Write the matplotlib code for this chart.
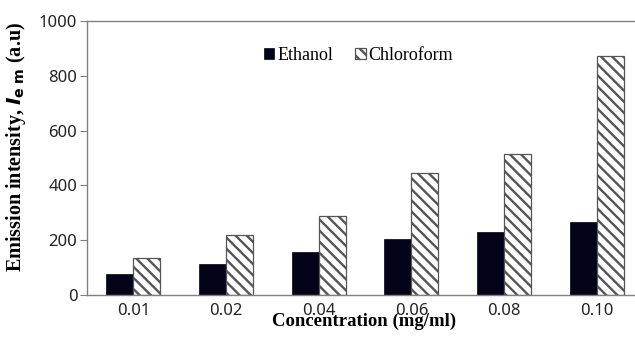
import matplotlib.pyplot as plt
import numpy as np

concentrations = ["0.01", "0.02", "0.04", "0.06", "0.08", "0.10"]
ethanol = [77, 113, 158, 205, 231, 268]
chloroform = [134, 218, 289, 445, 513, 873]

plt.rcParams['hatch.linewidth'] = 1.7
plt.rcParams['hatch.color'] = 'black'

fig = plt.figure(figsize=(6.35, 3.45), dpi=100)
# plot area runs off the right edge of the figure
ax = fig.add_axes([0.137, 0.145, 0.863, 0.794])
ax.patch.set_visible(False)

x = np.arange(len(concentrations))
w = 0.29
ax.bar(x - w / 2, ethanol, w, color='#03031a', edgecolor='#03031a', linewidth=0.5, label='Ethanol')
ax.bar(x + w / 2, chloroform, w, color='white', edgecolor='#555555', linewidth=0.9,
       hatch='\\\\\\', label='Chloroform')

ax.set_xlim(-0.5, -0.5 + 6 * 548 / 556)
ax.set_ylim(0, 1000)
ax.set_yticks(range(0, 1001, 200))
ax.set_xticks(x)
ax.set_xticklabels(concentrations)

for lab in ax.get_xticklabels() + ax.get_yticklabels():
    lab.set_fontfamily('Noto Sans')
    lab.set_fontsize(12)
    lab.set_color('#222222')

ax.tick_params(axis='x', length=0, pad=6)
ax.tick_params(axis='y', length=5, width=0.8, color='#808080', pad=2)

for side in ['left', 'bottom', 'top']:
    ax.spines[side].set_color('#808080')
    ax.spines[side].set_linewidth(1.0)
ax.spines['right'].set_visible(False)

ax.set_xlabel('Concentration (mg/ml)', family='Liberation Serif', fontweight='bold',
              fontsize=13.5)
ax.xaxis.set_label_coords(0.505, -0.066)
ax.set_ylabel(r'Emission intensity, $\boldsymbol{I}$$_{\mathbf{e\ m}}$ (a.u)',
              family='Liberation Serif', fontweight='bold', fontsize=14.5)
ax.yaxis.set_label_coords(-0.108, 0.54)

ax.legend(loc='upper center', bbox_to_anchor=(0.495, 0.965), ncol=2, frameon=False,
          prop={'family': 'Liberation Serif', 'size': 13},
          handlelength=0.6, handleheight=0.6, handletextpad=0.15, columnspacing=1.2)

fig.savefig('out.png', dpi=100)
